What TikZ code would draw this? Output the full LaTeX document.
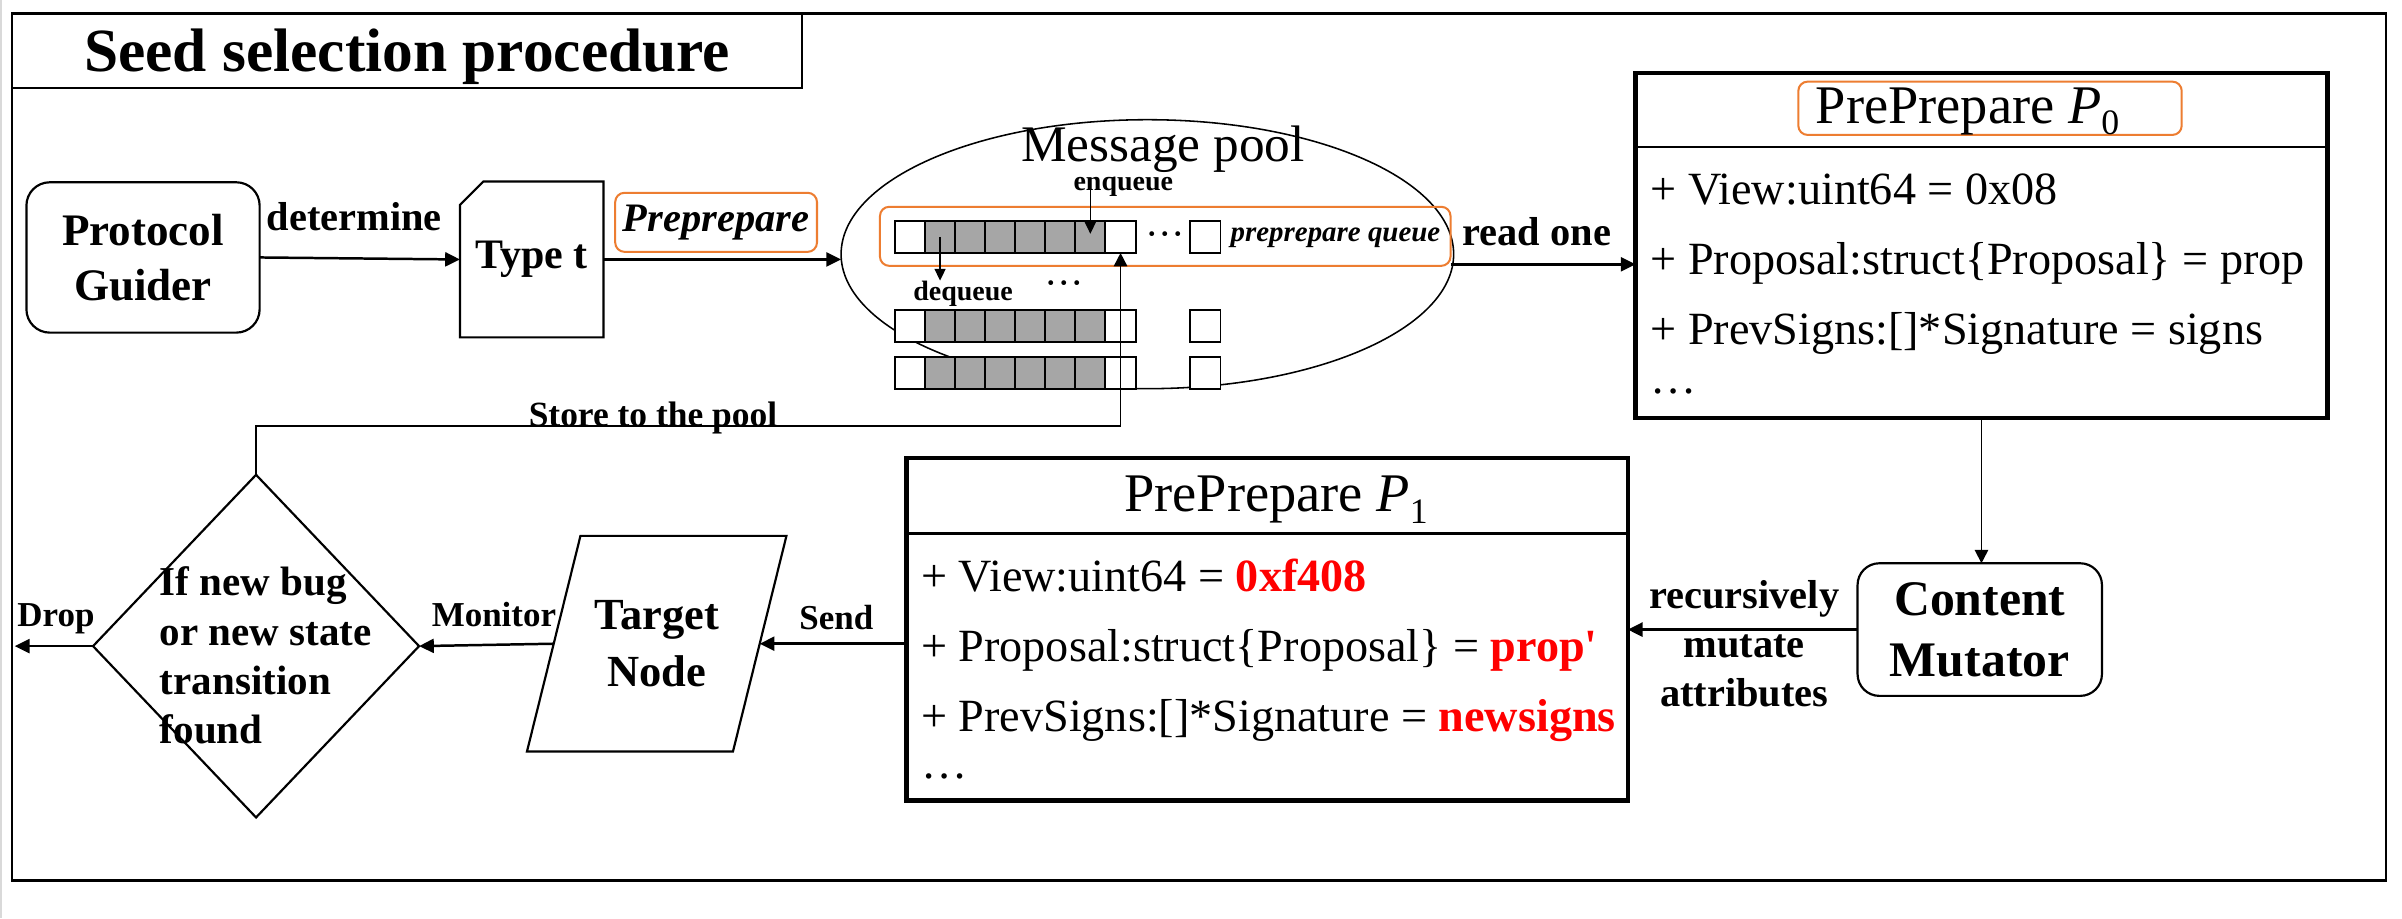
\documentclass[tikz,border=0pt]{standalone}
\usepackage{fontspec}
\setmainfont{Liberation Serif}
\usetikzlibrary{arrows.meta,shapes.geometric,calc}
\definecolor{boxorange}{HTML}{ED7D31}
\definecolor{valred}{HTML}{FF0000}
\definecolor{cellgray}{HTML}{A6A6A6}
\definecolor{edgegray}{HTML}{D9D9D9}
\newcommand{\fsz}[2]{\fontsize{#1}{#2}\selectfont}
\newcommand{\pname}[1]{PrePrepare \textit{P}\raisebox{-7.5pt}{\fsz{23}{23}#1}}
\newcommand{\mdots}{\textperiodcentered\textperiodcentered\textperiodcentered}
\begin{document}
\begin{tikzpicture}[x=1pt,y=-1pt,
  every node/.style={inner sep=0pt, outer sep=0pt},
  mainarrow/.style={line width=1.6pt,-{Triangle[length=9.5pt,width=9pt]}},
  thinarrow/.style={line width=1.1pt,-{Triangle[length=8.6pt,width=8.6pt]}},
  smallarrow/.style={line width=0.9pt,-{Triangle[length=7.5pt,width=7pt]}},
  cellbox/.style={draw, line width=1.2pt, minimum width=19.5pt, minimum height=20.6pt, fill=white},
  graycell/.style={cellbox, minimum width=19.33pt, fill=cellgray},
  orangebox/.style={draw=boxorange, line width=1.3pt, rounded corners=6pt},
  shapeline/.style={line width=1.4pt},
  bodytext/.style={font=\fsz{29.7}{36}, anchor=base west},
  headtext/.style={font=\fsz{35}{38}, anchor=base},
  edgelabel/.style={font=\fsz{22.5}{24}\bfseries, anchor=base},
]
\useasboundingbox (0,0) rectangle (1545,590.5);
\fill[white] (0,0) rectangle (1545,590.5);
\draw[edgegray, line width=1.2pt] (0.6,0) -- (0.6,590.5);

% outer frame and title
\node[draw, line width=1.6pt, minimum width=1527pt, minimum height=557.9pt] (frame) at (771.2,287.55) {};
\node[draw, line width=1.5pt, minimum width=508.3pt, minimum height=47.8pt,
      font=\fsz{39.5}{42}\bfseries, text height=27pt, text depth=0pt] (title) at (261.85,32.5) {Seed selection procedure};

% top row
\node[draw, shapeline, rounded corners=15pt, minimum width=150pt, minimum height=96.7pt,
      align=center, font=\fsz{29}{35.4}\bfseries] (pg) at (92,165.6) {Protocol\\Guider};
\node[minimum width=92.3pt, minimum height=100.2pt, font=\fsz{27}{30}\bfseries] (typet) at (342,166.9) {Type t};
\draw[shapeline] ([yshift=-15pt]typet.north west) -- ([xshift=15pt]typet.north west) -- (typet.north east)
   -- (typet.south east) -- (typet.south west) -- cycle;
\node[font=\fsz{26}{30}\bfseries, anchor=base] (det) at (227.8,148.3) {determine};
\draw[mainarrow] (pg.east) -- (typet.west);
\node[orangebox, minimum width=129.8pt, minimum height=38pt, font=\fsz{26}{30}\bfseries\itshape] (prep) at (460.6,143) {Preprepare};

% message pool
\node[draw, ellipse, line width=1pt, minimum width=394pt, minimum height=173pt] (pool) at (738,163.5) {};
\draw[mainarrow] (typet.east) -- (typet.east -| pool.west);
\node[font=\fsz{33}{36}, anchor=base] (mp) at (748,104) {Message pool};
\node[orangebox, minimum width=367pt, minimum height=38pt] (qbox) at (749.5,152) {};
\foreach \r/\y in {1/152.4, 2/209.65, 3/239.9} {
  \node[cellbox] (c\r-0) at (585.25,\y) {};
  \foreach \k in {1,...,6} {
    \node[graycell] (c\r-\k) at ({595+(\k-0.5)*19.33},\y) {};
  }
  \node[cellbox] (c\r-7) at (720.75,\y) {};
  \node[cellbox] (c\r-8) at (775.25,\y) {};
}
\node[font=\fsz{26}{26}, anchor=base] (dots1) at (749.5,158.9) {\mdots};
\node[font=\fsz{26}{26}, anchor=base] (dots2) at (684.5,190.8) {\mdots};
\node[font=\fsz{18.6}{20}\bfseries\itshape, anchor=base] (pq) at (859,155.4) {preprepare queue};
\node[font=\fsz{18}{18}\bfseries, anchor=base] (enq) at (722.5,122.5) {enqueue};
\draw[smallarrow] (enq.base -| c1-6.center) -- ([yshift=2pt]c1-6.center);
\node[font=\fsz{18}{18}\bfseries, anchor=base] (deq) at (619.5,193) {dequeue};
\draw[smallarrow] (c1-1.center) -- (c1-1.center |- deq.north);

% read one -> P0
\node[draw, line width=2.8pt, minimum width=445pt, minimum height=221.9pt] (p0) at (1274.5,158.05) {};
\node[font=\fsz{26}{30}\bfseries, anchor=base] (readone) at (988.5,158) {read one};
\draw[mainarrow] ([yshift=1pt]qbox.south east) -- ([yshift=1pt]qbox.south east -| p0.west);
\draw[line width=1.6pt] (p0.west |- 0,94.7) -- (p0.east |- 0,94.7);
\node[orangebox, minimum width=246.6pt, minimum height=34.3pt] (p0h) at (1280,69.65) {};
\node[headtext, anchor=base west] (p0t) at (1168,79.3) {\pname{0}};
\node[bodytext] (p0a) at (1061.6,131.8) {+ View:uint64 = 0x08};
\node[bodytext] (p0b) at (1061.6,176.8) {+ Proposal:struct\{Proposal\} = prop};
\node[bodytext] (p0c) at (1061.6,221.9) {+ PrevSigns:[]*Signature = signs};
\node[bodytext] (p0d) at (1061.6,252.9) {…};

% content mutator
\node[draw, shapeline, rounded corners=14pt, minimum width=157.2pt, minimum height=85.3pt,
      align=center, font=\fsz{32}{39}\bfseries] (cm) at (1273.4,404.95) {Content\\Mutator};
\draw[thinarrow] (p0.south) -- (p0.south |- cm.north);

% P1
\node[draw, line width=2.8pt, minimum width=464pt, minimum height=220.2pt] (p1) at (815,404.8) {};
\draw[line width=1.6pt] (p1.west |- 0,343) -- (p1.east |- 0,343);
\node[headtext] (p1t) at (820.8,329) {\pname{1}};
\node[bodytext] (p1a) at (592.5,380.5) {+ View:uint64 = \textcolor{valred}{\bfseries 0xf408}};
\node[bodytext] (p1b) at (592.5,425.5) {+ Proposal:struct\{Proposal\} = \textcolor{valred}{\bfseries prop\textquotesingle}};
\node[bodytext] (p1c) at (592.5,470.5) {+ PrevSigns:[]*Signature = \textcolor{valred}{\bfseries newsigns}};
\node[bodytext] (p1d) at (592.5,501) {…};
\draw[mainarrow] (cm.west) -- (cm.west -| p1.east);
\node[font=\fsz{26}{31.6}\bfseries, align=center] (mut) at (1121.9,414) {recursively\\mutate\\attributes};

% target node
\node[minimum width=132.5pt, minimum height=138.7pt, align=center, font=\fsz{28.6}{36.6}\bfseries] (tn) at (422.4,414.05) {Target\\Node};
\draw[shapeline] ([xshift=17.2pt]tn.north west) -- ([xshift=17.2pt]tn.north east)
   -- ([xshift=-17.2pt]tn.south east) -- ([xshift=-17.2pt]tn.south west) -- cycle;
\draw[mainarrow] (p1.west |- tn.east) -- (tn.east);
\node[edgelabel] (send) at (538,404.7) {Send};

% decision
\node[draw, diamond, shapeline, minimum width=209.7pt, minimum height=220.4pt] (dia) at (164.7,415.6) {};
\node[font=\fsz{26.4}{31.7}\bfseries, align=left, anchor=north west] (diat) at (102.8,364.6) {If new bug\\or new state\\transition\\found};
\draw[mainarrow] (tn.west) -- (dia.east);
\node[edgelabel] (mon) at (317.7,403) {Monitor};
\coordinate (dropend) at (9.5,415.6);
\draw[mainarrow] (dia.west) -- (dropend);
\node[edgelabel] (drop) at (36,403) {Drop};

% store back to pool
\coordinate (storecorner) at (c1-7.south |- 0,274);
\draw[thinarrow] (dia.north) |- (storecorner) -- (c1-7.south);
\node[font=\fsz{22.8}{24}\bfseries, anchor=base] (store) at (420,274.5) {Store to the pool};
\end{tikzpicture}
\end{document}
